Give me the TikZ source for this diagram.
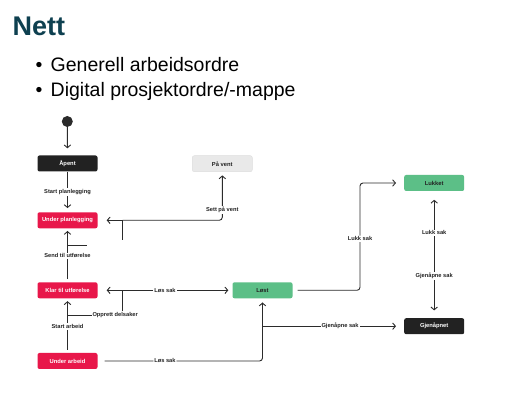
\documentclass[tikz,border=0pt]{standalone}
\usepackage{fontspec}
\setmainfont{Liberation Sans}
\usetikzlibrary{arrows.meta}
\definecolor{cred}{HTML}{E8174A}
\definecolor{cgreen}{HTML}{5CBF87}
\definecolor{cblack}{HTML}{222222}
\definecolor{cgray}{HTML}{E9E9E9}
\definecolor{cgrayb}{HTML}{DDDDDD}
\definecolor{cline}{HTML}{2B2B2B}
\definecolor{ctitle}{HTML}{0E4050}
\begin{document}
\begin{tikzpicture}[x=1pt,y=-1pt,
  state/.style={rounded corners=2pt, minimum width=60pt, minimum height=16pt, inner sep=0pt,
    font=\fontsize{5.8}{7}\selectfont\bfseries},
  redstate/.style={state, fill=cred, text=white},
  blackstate/.style={state, fill=cblack, text=white},
  greenstate/.style={state, fill=cgreen, text=cblack},
  graystate/.style={state, fill=cgray, draw=cgrayb, line width=0.4pt, text=cblack},
  lbl/.style={fill=white, inner sep=1pt, text=cblack, font=\fontsize{5.7}{6.5}\selectfont\bfseries},
  line/.style={draw=cline, line width=0.9pt},
  arr/.style={line, -{Straight Barb[length=2.8pt,width=6.5pt]}},
  arrboth/.style={line, {Straight Barb[length=2.8pt,width=6.5pt]}-{Straight Barb[length=2.8pt,width=6.5pt]}},
  startdot/.style={circle, fill=cline, minimum size=11pt, inner sep=0pt},
  bigtext/.style={anchor=base west, inner sep=0pt, font=\fontsize{19.5}{22}\selectfont, text=black}
]
\useasboundingbox[fill=white] (0,0) rectangle (523,403);

% heading and bullets
\node[anchor=base west, inner sep=0pt, font=\fontsize{27}{30}\selectfont\bfseries, text=ctitle] (title) at (12.5,36) {Nett};
\node[bigtext] (d1) at (35.5,72) {•};
\node[bigtext] (b1) at (50.5,72) {Generell arbeidsordre};
\node[bigtext] (d2) at (35.5,97) {•};
\node[bigtext] (b2) at (50.5,97) {Digital prosjektordre/-mappe};

% states
\node[startdot] (start) at (67.3,121.5) {};
\node[blackstate] (apent) at (67.5,163.5) {Åpent};
\node[graystate] (paavent) at (222.3,163.7) {På vent};
\node[redstate] (uplan) at (67.5,220.3) {Under planlegging};
\node[redstate] (klar) at (67.5,290.3) {Klar til utførelse};
\node[redstate] (uarb) at (67.5,361) {Under arbeid};
\node[greenstate] (lost) at (262.5,290.3) {Løst};
\node[greenstate] (lukket) at (434.2,183) {Lukket};
\node[blackstate] (gjen) at (434.2,326.2) {Gjenåpnet};

% junction points
\coordinate (sv) at (122.7,220.3);
\coordinate (svs) at (122.7,240);
\coordinate (hs1) at (67.5,245);
\coordinate (hs2) at (86.7,245);
\coordinate (ls) at (122.7,290.3);
\coordinate (od1) at (67.5,315);
\coordinate (gs) at (262.5,326.2);
\coordinate (lk1) at (360,290.3);
\coordinate (lk2) at (360,183);

% connectors
\draw[arr, shorten >=7pt] (start) -- (apent);
\draw[arr, shorten >=4pt] (apent) -- node[lbl]{Start planlegging} (uplan);
\draw[arr, shorten >=9pt] (sv) -- (uplan);
\draw[arr, rounded corners=3pt, shorten >=3.5pt] (sv) -| node[lbl, pos=0.606]{Sett på vent} (paavent);
\draw[line] (sv) -- (svs);
\draw[line] (hs1) -- (hs2);
\draw[arr, shorten <=3pt, shorten >=2.5pt] (klar) -- node[lbl, pos=0.49]{Send til utførelse} (uplan);
\draw[arr, shorten >=9pt] (ls) -- (klar);
\draw[arr, shorten >=4pt] (ls) -- node[lbl, pos=0.386]{Løs sak} (lost);
\draw[line] (od1) -| node[lbl, pos=0.5, xshift=-7.5pt]{Opprett delsaker} (ls);
\draw[arr, shorten <=3pt, shorten >=2.7pt] (uarb) -- node[lbl, pos=0.484]{Start arbeid} (klar);
\draw[arr, rounded corners=3pt, shorten <=7pt, shorten >=4pt] (uarb) -| node[lbl, pos=0.204]{Løs sak} (lost);
\draw[arr, shorten >=8pt] (gs) -- node[lbl, pos=0.548]{Gjenåpne sak} (gjen);
\draw[arr, rounded corners=3pt, shorten <=5pt, shorten >=8pt] (lost) -- (lk1) -- node[lbl, pos=0.48]{Lukk sak} (lk2) -- (lukket);
\draw[arrboth, shorten <=8.6pt, shorten >=7.6pt] (lukket) -- node[lbl, pos=0.329]{Lukk sak} node[lbl, pos=0.668]{Gjenåpne sak} (gjen);
\end{tikzpicture}
\end{document}
